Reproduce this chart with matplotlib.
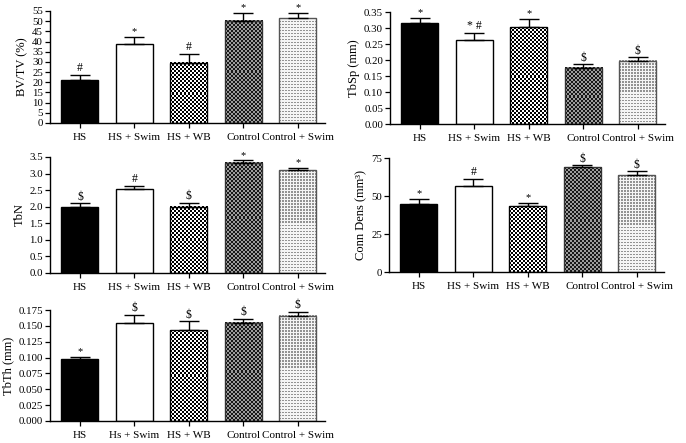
"""Five-panel bar chart of bone microarchitecture (HS vs. swim / WB / control)."""
import matplotlib
matplotlib.use("Agg")
import matplotlib.pyplot as plt
import numpy as np

plt.rcParams["font.family"] = ["Liberation Serif", "DejaVu Serif"]

groups = ["HS", "HS + Swim", "HS + WB", "Control", "Control + Swim"]
groups_tbth = ["HS", "Hs + Swim", "HS + WB", "Control", "Control + Swim"]

bvtv = [21.0, 39.0, 29.5, 50.2, 51.5]
bvtv_err = [2.6, 3.2, 4.6, 3.8, 2.5]
bvtv_sig = ["#", "*", "#", "*", "*"]

tbsp = [0.317, 0.262, 0.302, 0.176, 0.197]
tbsp_err = [0.014, 0.022, 0.026, 0.010, 0.011]
tbsp_sig = ["*", "* #", "*", "$", "$"]

tbn = [1.98, 2.52, 2.00, 3.32, 3.10]
tbn_err = [0.12, 0.11, 0.11, 0.08, 0.06]
tbn_sig = ["$", "#", "$", "*", "*"]

conn = [45.0, 56.5, 43.2, 69.0, 63.5]
conn_err = [3.3, 4.8, 2.0, 1.2, 2.8]
conn_sig = ["*", "#", "*", "$", "$"]

tbth = [0.098, 0.155, 0.143, 0.155, 0.166]
tbth_err = [0.003, 0.012, 0.014, 0.006, 0.006]
tbth_sig = ["*", "$", "$", "$", "$"]

W, H = 686, 443


def pattern(kind, ny, nx):
    yy, xx = np.indices((ny, nx))
    if kind == "check":
        return ((yy + xx) % 2).astype(float)
    if kind == "greycheck":
        return np.where((yy + xx) % 2 == 0, 0.1, 0.62)
    img = np.full((ny, nx), 0.96)
    img[::2, ::2] = 0.58
    return img


def texture(ax, bar, kind, cell=2.0):
    x0, y0 = bar.get_x(), bar.get_y()
    x1, y1 = x0 + bar.get_width(), y0 + bar.get_height()
    p0 = ax.transData.transform((x0, y0))
    p1 = ax.transData.transform((x1, y1))
    nx = max(1, int(round((p1[0] - p0[0]) / cell)))
    ny = max(1, int(round((p1[1] - p0[1]) / cell)))
    ax.imshow(pattern(kind, ny, nx), cmap="gray", vmin=0, vmax=1,
              extent=(x0, x1, y0, y1), interpolation="nearest",
              aspect="auto", zorder=1)


def panel(rect, vals, errs, sigs, labels, ylabel, yticks, fmt):
    left, top, width, height = rect
    ax = fig.add_axes([left / W, (H - top - height) / H, width / W, height / H])
    x = np.arange(len(vals))
    ax.set_xlim(-0.55, len(vals) - 0.5)
    ax.set_ylim(yticks[0], yticks[-1])
    faces = ["black", "white", "none", "none", "none"]
    edges = ["black", "black", "black", "#333333", "#555555"]
    bars = ax.bar(x, vals, width=0.68, color=faces, edgecolor=edges,
                  linewidth=1.0, zorder=2)
    for bar, kind in zip(bars[2:], ["check", "greycheck", "dots"]):
        texture(ax, bar, kind, cell=2.0 if kind != "dots" else 1.5)
    ax.set_xlim(-0.55, len(vals) - 0.5)
    ax.set_ylim(yticks[0], yticks[-1])
    ax.errorbar(x, vals, yerr=[np.zeros(len(vals)), errs], fmt="none",
                ecolor="black", elinewidth=1.0, capsize=7, capthick=1.0,
                zorder=3)
    for xi, v, e, s in zip(x, vals, errs, sigs):
        ax.annotate(s, (xi, v + e), xytext=(0, 0.5), textcoords="offset points",
                    ha="center", va="bottom", fontsize=8.5 if s != "*" else 7.5,
                    clip_on=False)
    ax.set_xticks(x, labels, fontsize=8)
    ax.set_yticks(yticks, [fmt.format(t) for t in yticks], fontsize=7.8)
    ax.set_ylabel(ylabel, fontsize=9, labelpad=3)
    ax.spines[["top", "right"]].set_visible(False)
    for s in ["left", "bottom"]:
        ax.spines[s].set_linewidth(1.0)
    ax.tick_params(axis="both", direction="out", length=3.5, width=0.9, pad=1.5)
    ax.tick_params(axis="x", pad=4)
    return ax


fig = plt.figure(figsize=(W / 100, H / 100), dpi=100)

panel((50, 11, 275, 112), bvtv, bvtv_err, bvtv_sig, groups, "BV/TV (%)",
      np.arange(0, 56, 5), "{:.0f}")
panel((390, 12, 275, 112), tbsp, tbsp_err, tbsp_sig, groups, "TbSp (mm)",
      np.round(np.arange(0, 0.351, 0.05), 2), "{:.2f}")
panel((50, 157, 275, 116), tbn, tbn_err, tbn_sig, groups, "TbN",
      np.round(np.arange(0, 3.51, 0.5), 1), "{:.1f}")
panel((389, 158, 275, 114), conn, conn_err, conn_sig, groups, "Conn Dens (mm³)",
      [0, 25, 50, 75], "{:.0f}")
panel((50, 310, 275, 111), tbth, tbth_err, tbth_sig, groups_tbth, "TbTh (mm)",
      np.round(np.arange(0, 0.1751, 0.025), 3), "{:.3f}")

fig.savefig("out.png", dpi=100)
